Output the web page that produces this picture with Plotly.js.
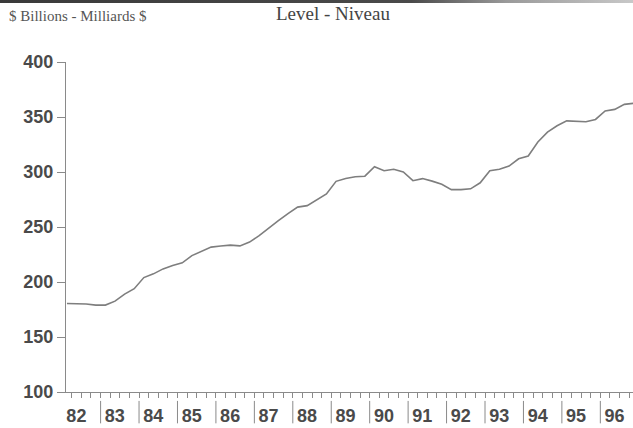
<!DOCTYPE html>
<html>
<head>
<meta charset="utf-8">
<script src="https://cdn.plot.ly/plotly-3.0.1.min.js"></script>
<style>
    html, body { margin: 0; padding: 0; background: #fff; }
    #chart { width: 633px; height: 428px; position: relative; }
    #topbar { position: absolute; left: 0; top: 0; width: 633px; height: 3px;
        background: linear-gradient(to right, #3a3a3a 0%, #4a4a4a 65%, #9a9a9a 80%, #c8c8c8 100%); z-index: 5; }
</style>
</head>
<body>
<div id="chart"><div id="topbar"></div></div>
<script>
    // quarterly series, 1982Q1 .. 1996Q4
    const START_YEAR = 1982;
    const years = [1982, 1983, 1984, 1985, 1986, 1987, 1988, 1989, 1990, 1991, 1992, 1993, 1994, 1995, 1996];
    const yearLabels = ['82', '83', '84', '85', '86', '87', '88', '89', '90', '91', '92', '93', '94', '95', '96'];
    const levels = [
        180.5, 180.3, 180, 179,
        179, 182.6, 189, 193.9,
        204, 207.4, 211.9, 215.1,
        217.4, 224, 227.9, 231.7,
        232.7, 233.5, 232.8, 236.3,
        242.1, 249.2, 255.7, 262.2,
        268.1, 269.4, 274.6, 280,
        291.5, 294.1, 295.7, 296.2,
        304.8, 301.1, 302.5, 300.1,
        292.1, 294, 291.7, 288.8,
        284, 284, 284.7, 290.2,
        301.1, 302.5, 305.4, 312,
        314.6, 327.3, 336.3, 342,
        346.5, 346.2, 345.7, 347.8,
        355.5, 356.9, 361.5, 362.5
    ];
    const yTicks = [100, 150, 200, 250, 300, 350, 400];

    const quarterPos = levels.map((_, i) => START_YEAR + i / 4 + 0.125);

    const SANS = '"Liberation Sans", Arial, sans-serif';
    const SERIF = '"Liberation Serif", "Times New Roman", serif';
    const AXIS_GREY = '#8a8a8a';
    const LABEL_FONT = { family: SANS, size: 18, color: '#4a4a4a', weight: 'bold' };

    const separators = years.slice(1).map(y => ({
        type: 'line', xref: 'x', yref: 'paper',
        x0: y, x1: y, y0: -0.027, y1: -0.095,
        line: { color: '#8a8a8a', width: 1 }
    }));

    const trace = {
        x: quarterPos, y: levels, type: 'scatter', mode: 'lines',
        line: { color: '#7e7e7e', width: 1.6 }, hoverinfo: 'skip'
    };

    const layout = {
        width: 633, height: 428,
        margin: { l: 66, r: 0, t: 62, b: 36 },
        paper_bgcolor: '#fff', plot_bgcolor: '#fff',
        showlegend: false,
        title: {
            text: 'Level - Niveau',
            font: { family: SERIF, size: 19, color: '#444' },
            x: 333 / 633, xanchor: 'center',
            y: 1 - 13 / 428, yanchor: 'middle'
        },
        xaxis: {
            range: [1982.1, 1996.85],
            tickmode: 'array',
            tickvals: years.map(y => y + 0.37),
            ticktext: yearLabels,
            ticks: 'outside', ticklen: 7, tickcolor: 'rgba(0,0,0,0)',
            showline: true, linecolor: AXIS_GREY, linewidth: 1,
            showgrid: false, zeroline: false,
            tickfont: LABEL_FONT,
            minor: { tickmode: 'linear', tick0: START_YEAR, dtick: 0.25, ticks: 'outside', ticklen: 5, tickcolor: AXIS_GREY, showgrid: false }
        },
        yaxis: {
            range: [100, 400],
            tickmode: 'array', tickvals: yTicks,
            ticks: 'outside', ticklen: 8, tickcolor: AXIS_GREY,
            showline: true, linecolor: AXIS_GREY, linewidth: 1,
            showgrid: false, zeroline: false,
            tickfont: LABEL_FONT
        },
        shapes: separators,
        annotations: [{
            text: '$ Billions - Milliards $',
            xref: 'paper', yref: 'paper',
            x: -59 / 567, y: (392 - 16) / 330,
            xanchor: 'left', yanchor: 'middle',
            showarrow: false,
            font: { family: SERIF, size: 15, color: '#555' }
        }]
    };

    Plotly.newPlot('chart', [trace], layout, { displayModeBar: false, staticPlot: true });
</script>
</body>
</html>
